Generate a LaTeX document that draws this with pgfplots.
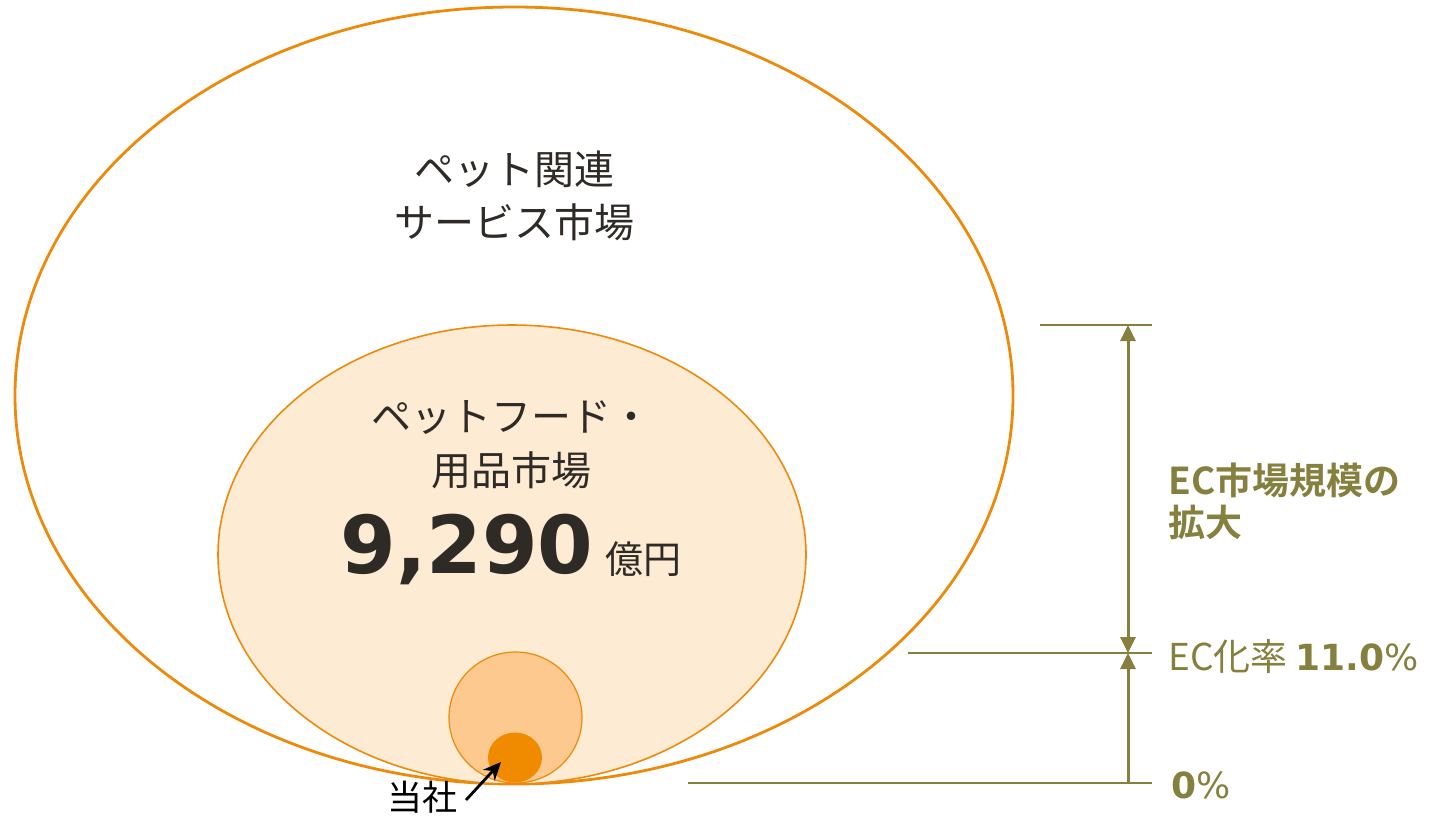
\documentclass[border=0pt]{standalone}
\usepackage{pgfplots}
\pgfplotsset{compat=1.18}
\usepackage{fontspec}
\usetikzlibrary{arrows.meta}
\setmainfont{DejaVu Sans}
\newfontfamily\jp{Noto Sans CJK JP}[BoldFont={Noto Sans CJK JP Bold}]

\definecolor{ring}{RGB}{238,138,10}
\definecolor{foodfill}{RGB}{253,235,211}
\definecolor{midfill}{RGB}{253,201,142}
\definecolor{core}{RGB}{240,139,0}
\definecolor{olive}{RGB}{134,128,62}
\definecolor{ink}{RGB}{46,42,38}

\begin{document}
\begin{tikzpicture}
\begin{axis}[
  width=721.5pt, height=408pt, scale only axis,
  xmin=0, xmax=1443, ymin=0, ymax=816, y dir=reverse,
  hide axis, clip=false,
]
\coordinate (bl) at (axis cs:0,816);
\coordinate (tr) at (axis cs:1443,0);
% nested markets: centre x, centre y, x radius, y radius (pixels)
\draw[ring, line width=1.4pt] (axis cs:514,395.5) ellipse [x radius=499, y radius=388.5];
\draw[ring, line width=0.8pt, fill=foodfill] (axis cs:512,554.5) ellipse [x radius=294, y radius=229.5];
\draw[ring, line width=0.6pt, fill=midfill] (axis cs:515.5,717.5) ellipse [x radius=66.5, y radius=65.5];
\fill[core] (axis cs:515,757.5) ellipse [x radius=27, y radius=25];

% labels inside
\node[ink, align=center, font=\jp\fontsize{20pt}{26.5pt}\selectfont] at (axis cs:514,196) {ペット関連\\サービス市場};
\node[ink, align=center, font=\jp\fontsize{20pt}{27pt}\selectfont] at (axis cs:511,445) {ペットフード・\\用品市場};
\node[ink, anchor=base west, inner sep=0pt] at (axis cs:340,573)
  {\fontsize{40pt}{40pt}\selectfont\bfseries 9,290\hspace{6pt}{\jp\mdseries\fontsize{19pt}{19pt}\selectfont 億円}};

% EC scale on the right
\draw[olive, line width=1.3pt] (axis cs:1040,325) -- (axis cs:1152,325);
\draw[olive, line width=1.3pt] (axis cs:908,653) -- (axis cs:1152,653);
\draw[olive, line width=1.3pt] (axis cs:688,783) -- (axis cs:1152,783);
\draw[olive, line width=1.5pt, {Triangle[width=7.5pt,length=8pt]}-{Triangle[width=7.5pt,length=8pt]}] (axis cs:1128,653) -- (axis cs:1128,325);
\draw[olive, line width=1.5pt, -{Triangle[width=7.5pt,length=8pt]}] (axis cs:1128,783) -- (axis cs:1128,653);

\node[olive, anchor=west, align=left, inner sep=0pt, font=\jp\bfseries\fontsize{18.5pt}{21pt}\selectfont] at (axis cs:1168,501) {EC市場規模の\\拡大};
\node[olive, anchor=west, inner sep=0pt] at (axis cs:1168,656)
  {{\jp\fontsize{18.5pt}{18.5pt}\selectfont EC化率}\hspace{4pt}\fontsize{18pt}{18pt}\selectfont\textbf{11.0}\%};
\node[olive, anchor=west, inner sep=0pt] at (axis cs:1171,785)
  {\fontsize{18pt}{18pt}\selectfont\textbf{0}\%};

% company pointer
\node[black, font=\jp\fontsize{17.5pt}{17.5pt}\selectfont] at (axis cs:422,797) {当社};
\draw[black, line width=1.4pt, -{Stealth[width=8pt,length=9pt]}] (axis cs:466,800) -- (axis cs:501,762);
\end{axis}
\pgfresetboundingbox
\path[use as bounding box] (bl) rectangle (tr);
\end{tikzpicture}
\end{document}
